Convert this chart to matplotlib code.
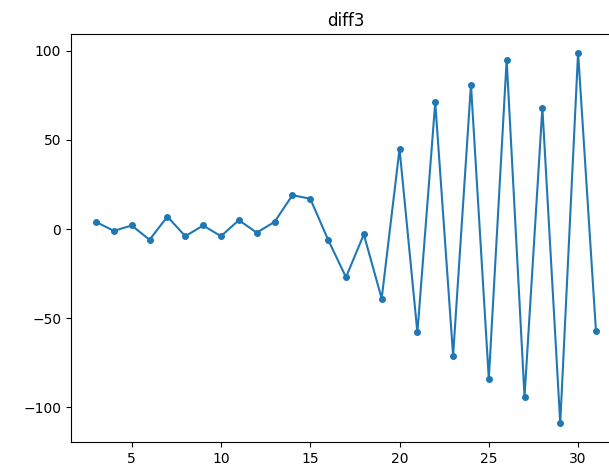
import matplotlib
matplotlib.use("Agg")
import matplotlib.pyplot as plt

x = list(range(3, 32))
diff3 = [4, -1, 2, -6, 7, -4, 2, -4, 5, -2, 4, 19, 17, -6, -27, -3, -39,
         45, -58, 71, -71, 81, -84, 95, -94, 68, -109, 99, -57]

fig = plt.figure(figsize=(6.09, 4.72), dpi=100)
ax = fig.add_axes([0.1166, 0.0636, 0.903, 0.8644])
ax.plot(x, diff3, marker='o', markersize=4)
ax.set_title('diff3')

fig.savefig('out.png', dpi=100)
